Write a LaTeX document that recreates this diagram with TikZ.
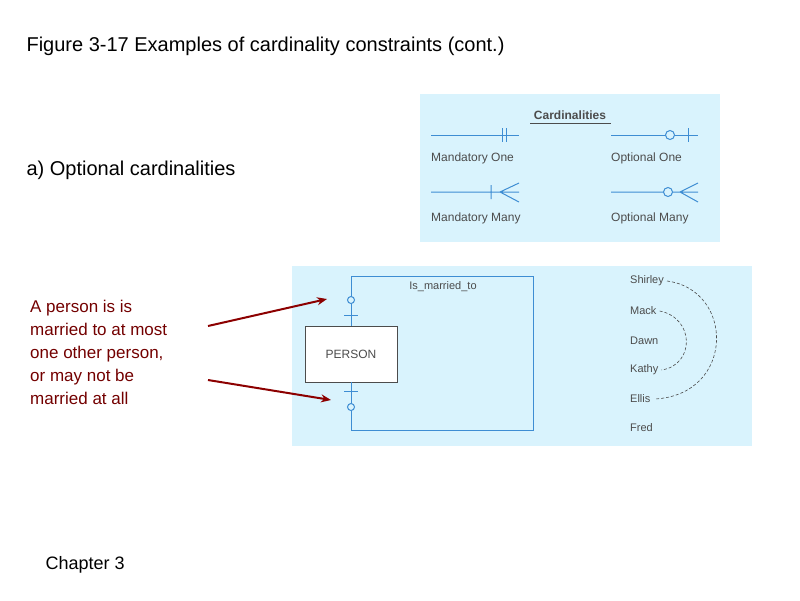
\documentclass[tikz,border=0pt]{standalone}
\usepackage{fontspec}
\setmainfont{Liberation Sans}
\usetikzlibrary{calc,arrows.meta}
\begin{document}
\begin{tikzpicture}[x=1pt,y=-1pt,
  ln/.style={draw=cyan!60!blue!80, line width=1pt},
  pane/.style={fill=cyan!15, draw=none},
  small/.style={font=\fontsize{12}{13}\selectfont, text=black!70, inner sep=1pt},
  arr/.style={draw=red!55!black, line width=2pt, -{Stealth[length=10pt,width=8pt]}},
  dsh/.style={draw=black!70, densely dashed, line width=0.6pt}]
\useasboundingbox (0,0) rectangle (800,600);
\node[anchor=west, font=\fontsize{20}{24}\selectfont] (title) at (23,46) {Figure 3-17 Examples of cardinality constraints (cont.)};
\node[anchor=west, font=\fontsize{20}{24}\selectfont] (sub) at (23,170) {a) Optional cardinalities};
\node[anchor=north west, align=left, font=\fontsize{17}{23}\selectfont, text=red!45!black, inner sep=0pt] (note) at (30,300) {A person is is\\married to at most\\one other person,\\or may not be\\married at all};
\node[anchor=west, font=\fontsize{18}{22}\selectfont] (ch) at (42,565) {Chapter 3};
% top panel
\fill[pane] (420,94) rectangle (720,242);
\node[small, font=\bfseries\fontsize{12}{13}\selectfont] (card) at (570,115) {Cardinalities};
\draw[black!70, line width=1pt] (530,123) -- (611,123);
\draw[ln] (431,135) -- (519,135) (502,128) -- (502,142) (506,128) -- (506,142);
\node[small, anchor=west] (mo) at (430,158) {Mandatory One};
\draw[ln] (611,135) -- (698,135) (688,128) -- (688,142);
\draw[ln, fill=cyan!15] (670,135) circle (4.5);
\node[small, anchor=west] (oo) at (610,158) {Optional One};
\draw[ln] (431,192) -- (519,192) (491,185) -- (491,199) (500,192) -- (519,183) (500,192) -- (519,202);
\node[small, anchor=west] (mm) at (430,218) {Mandatory Many};
\draw[ln] (611,192) -- (698,192) (680,192) -- (698,183) (680,192) -- (698,202);
\draw[ln, fill=cyan!15] (668,192) circle (4.5);
\node[small, anchor=west] (om) at (610,218) {Optional Many};
% bottom panel
\fill[pane] (292,266) rectangle (752,446);
\node[draw=black!70, line width=0.8pt, fill=white, minimum width=92pt, minimum height=56pt, small] (p) at (351,354) {PERSON};
\draw[ln] (p.north) -- (351,276) -- (533,276) -- (533,430) -- (351,430) -- (p.south);
\draw[ln] (344,315) -- (358,315) (344,391) -- (358,391);
\draw[ln, fill=cyan!15] (351,300) circle (3.5);
\draw[ln, fill=cyan!15] (351,407) circle (3.5);
\node[small, font=\fontsize{11}{12}\selectfont] (rel) at (443,287) {Is\_married\_to};
\node[small, anchor=west, font=\fontsize{11}{12}\selectfont] (sh) at (629,281) {Shirley};
\node[small, anchor=west, font=\fontsize{11}{12}\selectfont] (ma) at (629,311) {Mack};
\node[small, anchor=west, font=\fontsize{11}{12}\selectfont] (da) at (629,341) {Dawn};
\node[small, anchor=west, font=\fontsize{11}{12}\selectfont] (ka) at (629,370) {Kathy};
\node[small, anchor=west, font=\fontsize{11}{12}\selectfont] (el) at (629,399) {Ellis};
\node[small, anchor=west, font=\fontsize{11}{12}\selectfont] (fr) at (629,428) {Fred};
\draw[dsh] ($(sh.east)+(2,0)$) .. controls (735,290) and (735,395) .. ($(el.east)+(3,0)$);
\draw[dsh] ($(ma.east)+(2,0)$) .. controls (695,318) and (695,365) .. ($(ka.east)+(2,0)$);
\coordinate (a1) at (327,299);
\coordinate (a2) at (331,400);
\draw[arr] (208,326) -- (a1);
\draw[arr] (208,380) -- (a2);
\end{tikzpicture}
\end{document}
